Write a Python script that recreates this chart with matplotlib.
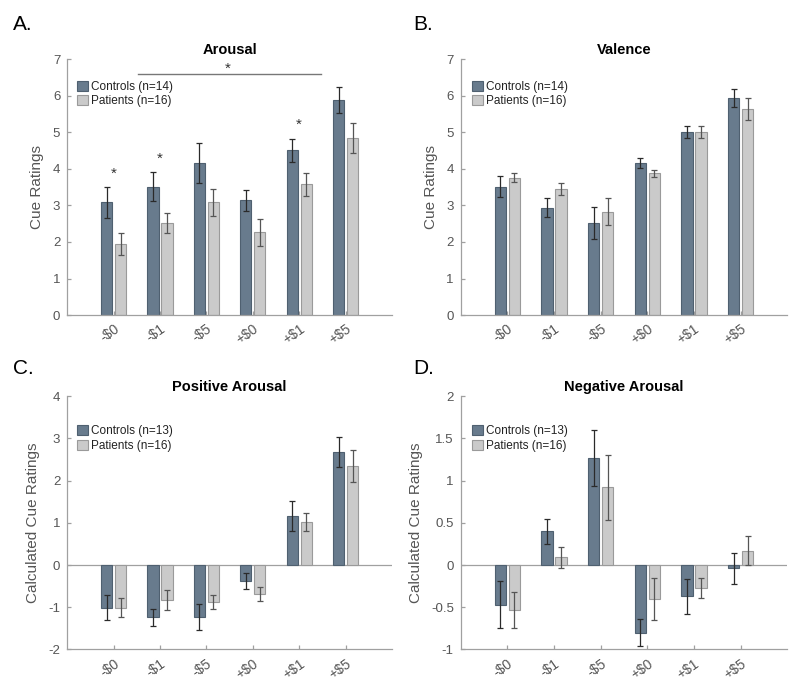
import matplotlib
matplotlib.use('Agg')
import matplotlib.pyplot as plt
import numpy as np

plt.rcParams['font.family'] = ['Liberation Sans', 'DejaVu Sans']
plt.rcParams['axes.unicode_minus'] = False

cues = ['-$0', '-$1', '-$5', '+$0', '+$1', '+$5']

# Arousal
arousal_ctl = [3.08, 3.51, 4.16, 3.14, 4.51, 5.88]
arousal_ctl_err = [0.43, 0.40, 0.55, 0.29, 0.31, 0.36]
arousal_pat = [1.94, 2.51, 3.08, 2.26, 3.58, 4.84]
arousal_pat_err = [0.30, 0.27, 0.37, 0.36, 0.32, 0.41]

# Valence
valence_ctl = [3.51, 2.94, 2.52, 4.16, 5.01, 5.94]
valence_ctl_err = [0.29, 0.25, 0.43, 0.14, 0.17, 0.25]
valence_pat = [3.76, 3.45, 2.83, 3.88, 5.01, 5.64]
valence_pat_err = [0.12, 0.16, 0.37, 0.09, 0.17, 0.31]

# Positive arousal
pos_ctl = [-1.01, -1.24, -1.24, -0.37, 1.16, 2.68]
pos_ctl_err = [0.29, 0.20, 0.31, 0.19, 0.35, 0.36]
pos_pat = [-1.01, -0.83, -0.88, -0.69, 1.02, 2.35]
pos_pat_err = [0.22, 0.24, 0.16, 0.16, 0.21, 0.37]

# Negative arousal
neg_ctl = [-0.47, 0.40, 1.27, -0.80, -0.37, -0.04]
neg_ctl_err = [0.28, 0.15, 0.33, 0.16, 0.21, 0.18]
neg_pat = [-0.53, 0.09, 0.92, -0.40, -0.27, 0.17]
neg_pat_err = [0.21, 0.13, 0.39, 0.25, 0.12, 0.17]

dark = '#687b8d'
dark_edge = '#4f6070'
light = '#cacaca'
light_edge = '#9a9a9a'
axcol = '#a0a0a0'
txtcol = '#555555'

fig = plt.figure(figsize=(8, 6.88), dpi=100)

panels = [
    # letter, title, ylabel, ctl, ctl_err, pat, pat_err, n_ctl, ylim, yticks, yticklabels, rect, legend anchor
    ('A.', 'Arousal', 'Cue Ratings', arousal_ctl, arousal_ctl_err, arousal_pat, arousal_pat_err, 14,
     (0, 7), [0, 1, 2, 3, 4, 5, 6, 7], None, [0.084, 0.542, 0.406, 0.372], (0.03, 0.915)),
    ('B.', 'Valence', 'Cue Ratings', valence_ctl, valence_ctl_err, valence_pat, valence_pat_err, 14,
     (0, 7), [0, 1, 2, 3, 4, 5, 6, 7], None, [0.576, 0.542, 0.408, 0.372], (0.035, 0.915)),
    ('C.', 'Positive Arousal', 'Calculated Cue Ratings', pos_ctl, pos_ctl_err, pos_pat, pos_pat_err, 13,
     (-2, 4), [-2, -1, 0, 1, 2, 3, 4], None, [0.084, 0.056, 0.406, 0.368], (0.03, 0.885)),
    ('D.', 'Negative Arousal', 'Calculated Cue Ratings', neg_ctl, neg_ctl_err, neg_pat, neg_pat_err, 13,
     (-1, 2), [-1, -0.5, 0, 0.5, 1, 1.5, 2], ['-1', '-0.5', '0', '0.5', '1', '1.5', '2'],
     [0.576, 0.056, 0.408, 0.368], (0.035, 0.885)),
]

x = np.arange(1, 7)
off = 0.15
w = 0.24

for letter, title, ylab, ctl, ctl_err, pat, pat_err, nc, ylim, yt, ytl, rect, lpos in panels:
    ax = fig.add_axes(rect)
    ax.bar(x - off, ctl, w, color=dark, edgecolor=dark_edge, linewidth=0.8,
           label='Controls (n=%d)' % nc, zorder=2)
    ax.bar(x + off, pat, w, color=light, edgecolor=light_edge, linewidth=0.8,
           label='Patients (n=16)', zorder=2)
    ax.errorbar(x - off, ctl, yerr=ctl_err, fmt='none', ecolor='#2a2a2a',
                elinewidth=0.9, capsize=2.5, capthick=0.9, zorder=3)
    ax.errorbar(x + off, pat, yerr=pat_err, fmt='none', ecolor='#555555',
                elinewidth=0.9, capsize=2.5, capthick=0.9, zorder=3)
    ax.set_xlim(0, 7)
    ax.set_ylim(*ylim)
    ax.set_yticks(yt)
    if ytl is not None:
        ax.set_yticklabels(ytl)
    ax.set_xticks(x)
    ax.set_xticklabels(cues, rotation=35, ha='right', rotation_mode='anchor', fontsize=10)
    if ylim[0] < 0:
        ax.axhline(0, color=axcol, linewidth=0.9, zorder=1)
    for s in ['top', 'right']:
        ax.spines[s].set_visible(False)
    for s in ['left', 'bottom']:
        ax.spines[s].set_color(axcol)
        ax.spines[s].set_linewidth(0.9)
    ax.tick_params(direction='in', length=3, color=axcol, labelcolor=txtcol, width=0.9)
    ax.tick_params(axis='y', pad=5, labelsize=9.5)
    ax.tick_params(axis='x', pad=5)
    ax.set_ylabel(ylab, fontsize=11, color=txtcol, labelpad=6)
    ax.set_title(title, fontsize=10.5, fontweight='bold', pad=4)
    ax.legend(loc='upper left', bbox_to_anchor=lpos, frameon=False, fontsize=8.5,
              handlelength=0.9, handleheight=0.9, handletextpad=0.3,
              labelspacing=0.2, borderaxespad=0, borderpad=0, labelcolor='#222222')

    if letter == 'A.':
        # significance markers
        for xi, yi in [(1, 3.87), (2, 4.27), (5, 5.2)]:
            ax.text(xi, yi, '*', ha='center', va='center', fontsize=11, color='#333333')
        ax.plot([1.52, 5.46], [6.59, 6.59], color='#777777', linewidth=1)
        ax.text(3.47, 6.75, '*', ha='center', va='center', fontsize=11, color='#333333')

# panel letters
fig.text(0.016, 0.956, 'A.', fontsize=15, va='baseline', ha='left')
fig.text(0.516, 0.956, 'B.', fontsize=15, va='baseline', ha='left')
fig.text(0.016, 0.456, 'C.', fontsize=15, va='baseline', ha='left')
fig.text(0.516, 0.456, 'D.', fontsize=15, va='baseline', ha='left')

fig.savefig('out.png', dpi=100)
